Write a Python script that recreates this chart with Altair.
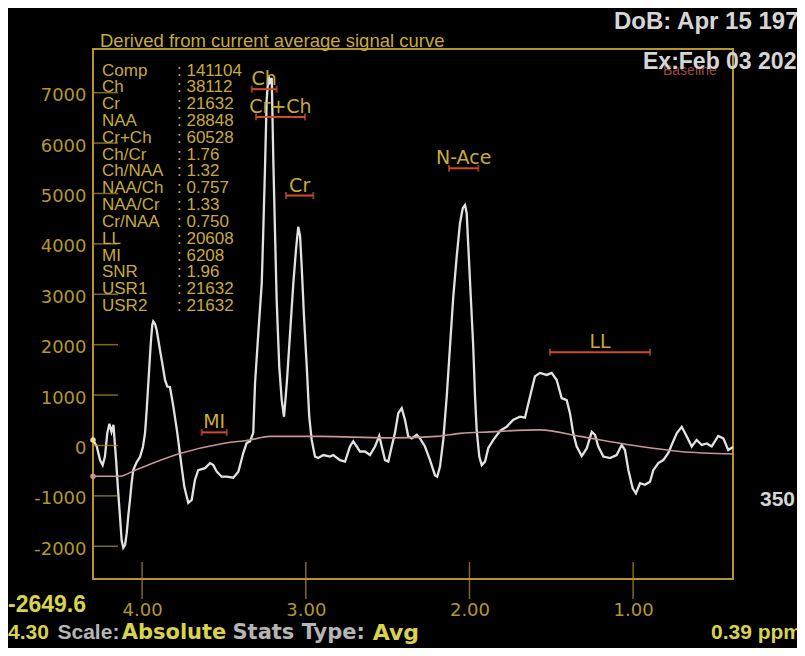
import altair as alt
import pandas as pd

# ---------------- data ----------------
sig_ppm = [4.300,4.277,4.257,4.241,4.227,4.213,4.200,4.187,4.175,4.159,
           4.147,4.135,4.125,4.115,4.104,4.094,4.084,4.074,4.064,4.054,
           4.033,4.013,3.995,3.982,3.972,3.962,3.947,3.938,3.932,3.921,
           3.911,3.891,3.875,3.860,3.846,3.830,3.809,3.785,3.764,3.742,
           3.718,3.697,3.677,3.657,3.616,3.585,3.565,3.544,3.514,3.483,
           3.443,3.412,3.382,3.361,3.341,3.321,3.310,3.290,3.269,3.260,
           3.249,3.239,3.228,3.219,3.208,3.198,3.188,3.178,3.162,3.147,
           3.133,3.116,3.096,3.076,3.060,3.046,3.035,3.025,3.011,2.994,
           2.979,2.964,2.944,2.924,2.893,2.852,2.832,2.791,2.760,2.730,
           2.710,2.689,2.669,2.638,2.608,2.577,2.551,2.536,2.516,2.496,
           2.475,2.455,2.435,2.414,2.394,2.374,2.353,2.322,2.302,2.272,
           2.241,2.211,2.197,2.180,2.160,2.139,2.119,2.099,2.078,2.058,
           2.041,2.027,2.017,2.007,1.992,1.977,1.966,1.956,1.940,1.925,
           1.905,1.885,1.854,1.813,1.773,1.732,1.691,1.661,1.630,1.600,
           1.569,1.528,1.498,1.467,1.437,1.406,1.386,1.366,1.345,1.314,
           1.284,1.253,1.233,1.213,1.182,1.141,1.101,1.070,1.050,1.029,
           1.003,0.983,0.958,0.928,0.897,0.877,0.846,0.816,0.785,0.765,
           0.734,0.703,0.673,0.642,0.612,0.581,0.550,0.520,0.480,0.449,
           0.419,0.390]
sig_val = [110,-20,-290,-390,-220,240,430,270,410,-290,
           -880,-1420,-1880,-2030,-1970,-1740,-1380,-1080,-740,-490,
           -330,-230,-30,250,700,1240,2030,2390,2460,2410,
           2290,1900,1600,1300,1170,1160,770,250,-290,-820,
           -1140,-1080,-680,-490,-450,-350,-390,-520,-620,-620,
           -640,-520,-150,50,80,250,1240,2230,3220,4220,
           5530,6860,7330,7210,7290,5610,4220,2890,1560,900,
           570,1240,2230,3220,3880,4340,4160,3550,2560,1560,
           570,110,-220,-250,-190,-220,-190,-290,-320,-20,
           80,-20,-120,-120,-190,-20,190,-20,-290,-320,
           -20,250,640,740,510,180,140,210,140,-20,
           -290,-590,-620,-420,110,970,1960,2950,3750,4410,
           4710,4770,4610,3940,2950,1960,970,310,-220,-390,
           -320,-50,110,290,370,510,570,550,970,1370,
           1440,1400,1440,1300,940,900,640,240,-20,-210,
           -60,270,210,-20,-220,-250,-190,10,-90,-490,
           -850,-950,-750,-780,-720,-490,-350,-290,-150,10,
           240,370,180,-20,110,10,40,-20,190,140,
           -90,-30]

base_ppm = [4.300, 4.135, 4.043, 3.769, 3.506, 3.341, 3.219, 2.913, 2.504,
            2.199, 2.058, 1.875, 1.569, 1.325, 1.019, 0.714, 0.390]
base_val = [-610, -610, -490, -160, 40, 110, 180, 180, 150,
            180, 240, 270, 310, 180, 10, -120, -170]

y_ticks = [-2000, -1000, 0, 1000, 2000, 3000, 4000, 5000, 6000, 7000]
x_ticks = [4.0, 3.0, 2.0, 1.0]

stat_names = ["Comp", "Ch", "Cr", "NAA", "Cr+Ch", "Ch/Cr", "Ch/NAA", "NAA/Ch",
              "NAA/Cr", "Cr/NAA", "LL", "MI", "SNR", "USR1", "USR2"]
stat_values = ["141104", "38112", "21632", "28848", "60528", "1.76", "1.32", "0.757",
               "1.33", "0.750", "20608", "6208", "1.96", "21632", "21632"]

peak_names = ["Ch", "Cr+Ch", "Cr", "N-Ace", "LL", "MI"]
peak_start = [3.330, 3.304, 3.121, 2.125, 1.508, 3.636]
peak_end = [3.178, 3.005, 2.954, 1.946, 0.897, 3.483]
peak_level = [7070, 6520, 4960, 5500, 1850, 260]

y_min, y_max = -2649.6, 7867
x_left, x_right = 4.30, 0.39

# ---------------- style ----------------
GOLD_AXIS = "#b4962c"
GOLD_TXT = "#c8aa3a"
YELLOW = "#d9d24e"
GRAY = "#b5b5b5"
HEAD = "#d6d6d6"
RED = "#cf4b2a"
PINK = "#c99494"
SIG = "#e2e2e2"
SANS = "Liberation Sans"
WIDE = "DejaVu Sans"

W, H = 640, 530

X = alt.Scale(domain=[x_left, x_right], nice=False, zero=False)
Y = alt.Scale(domain=[y_min, y_max], nice=False, zero=False)

AX_X = alt.Axis(values=x_ticks, format=".2f", ticks=False, tickSize=0, domain=False,
                grid=False, labelColor=GOLD_AXIS, labelFont=WIDE, labelFontSize=18,
                labelPadding=22, labelFlush=False, title=None)
AX_Y = alt.Axis(values=y_ticks, format="d", ticks=False, tickSize=0, domain=False,
                grid=False, labelColor=GOLD_AXIS, labelFont=WIDE, labelFontSize=18,
                labelPadding=7, labelOffset=3, labelFlush=False, title=None,
                labelExpr="replace(datum.label, '\u2212', '-')")


def xq(field):
    return alt.X(field, scale=X, axis=AX_X)


def yq(field):
    return alt.Y(field, scale=Y, axis=AX_Y)


one = pd.DataFrame({"k": [0]})

signal_df = pd.DataFrame({"ppm": sig_ppm, "val": sig_val, "i": list(range(len(sig_ppm)))})
base_df = pd.DataFrame({"ppm": base_ppm, "val": base_val, "i": list(range(len(base_ppm)))})

signal = alt.Chart(signal_df).mark_line(color=SIG, strokeWidth=2.3).encode(
    x=xq("ppm:Q"), y=yq("val:Q"), order="i:Q")

baseline = alt.Chart(base_df).mark_line(
    color=PINK, strokeWidth=1.6, interpolate="monotone").encode(
    x=xq("ppm:Q"), y=yq("val:Q"), order="i:Q")

start_df = pd.DataFrame({"ppm": [sig_ppm[0], base_ppm[0]],
                         "val": [sig_val[0], base_val[0]],
                         "c": ["#e8dc9a", PINK]})
starts = alt.Chart(start_df).mark_circle(size=30, opacity=1).encode(
    x=xq("ppm:Q"), y=yq("val:Q"), color=alt.Color("c:N", scale=None))

ytick = alt.Chart(pd.DataFrame({"v": y_ticks})).mark_tick(
    orient="horizontal", color=GOLD_AXIS, thickness=1.5, size=25).encode(
    y=yq("v:Q"), x=alt.value(12.5))

xtick = alt.Chart(pd.DataFrame({"v": x_ticks})).mark_tick(
    orient="vertical", color=GOLD_AXIS, thickness=1.5, size=37).encode(
    x=xq("v:Q"), y=alt.value(531.5))

peaks_df = pd.DataFrame({"name": peak_names, "s": peak_start, "e": peak_end, "lvl": peak_level})
peaks_df["mid"] = (peaks_df["s"] + peaks_df["e"]) / 2
caps_df = pd.DataFrame({"p": peak_start + peak_end, "lvl": peak_level + peak_level})

bars = alt.Chart(peaks_df).mark_rule(color=RED, strokeWidth=2).encode(
    x=xq("s:Q"), x2="e:Q", y=yq("lvl:Q"))
caps = alt.Chart(caps_df).mark_tick(orient="vertical", color=RED, thickness=2, size=7).encode(
    x=xq("p:Q"), y=yq("lvl:Q"))
plabels = alt.Chart(peaks_df).mark_text(
    color=GOLD_TXT, font=WIDE, fontSize=19, dy=-10, baseline="middle").encode(
    x=xq("mid:Q"), y=yq("lvl:Q"), text="name:N")


def label(text, x, y, color, size, font=SANS, weight="normal", align="left",
          baseline="middle", line_height=None):
    kw = dict(color=color, fontSize=size, font=font, fontWeight=weight,
              align=align, baseline=baseline)
    if line_height is not None:
        kw["lineHeight"] = line_height
    return alt.Chart(one).mark_text(**kw).encode(
        x=alt.value(x), y=alt.value(y), text=alt.value(text))


texts = [
    label("Derived from current average signal curve", 7, -2, GOLD_TXT, 18.5,
          baseline="alphabetic"),
    label(stat_names, 9, 13.5, GOLD_TXT, 17, baseline="top", line_height=16.82),
    label([": " + v for v in stat_values], 84, 13.5, GOLD_TXT, 17, baseline="top",
          line_height=16.82),
    label("Baseline", 570, 22, "#9c4848", 14),
    label("DoB: Apr 15 197", 521, -27, HEAD, 24, weight="bold"),
    label("Ex:Feb 03 202", 550, 12.7, HEAD, 23, weight="bold"),
    label("350", 667, 451, HEAD, 21, weight="bold"),
    label("-2649.6", -85, 556, YELLOW, 23, weight="bold"),
    label("4.30", -85, 584, YELLOW, 21, weight="bold"),
    label("Scale:", -35.5, 584, GRAY, 21, weight="bold"),
    label("Absolute", 28.7, 584, YELLOW, 21, font=WIDE, weight="bold"),
    label("Stats Type:", 139.5, 584, GRAY, 21, font=WIDE, weight="bold"),
    label("Avg", 279.7, 584, YELLOW, 22, font=WIDE, weight="bold"),
    label("0.39 ppm", 618, 584, YELLOW, 21, weight="bold"),
]

chart = alt.layer(
    signal, baseline, starts, ytick, xtick, bars, caps, plabels, *texts
).properties(
    width=W, height=H,
    autosize=alt.AutoSizeParams(type="none"),
    padding={"left": 85, "top": 41, "right": 64, "bottom": 69},
    background="#000000",
).configure_view(stroke=GOLD_AXIS, strokeWidth=2)

chart.save("out.html", embed_options={"renderer": "svg", "actions": False})
